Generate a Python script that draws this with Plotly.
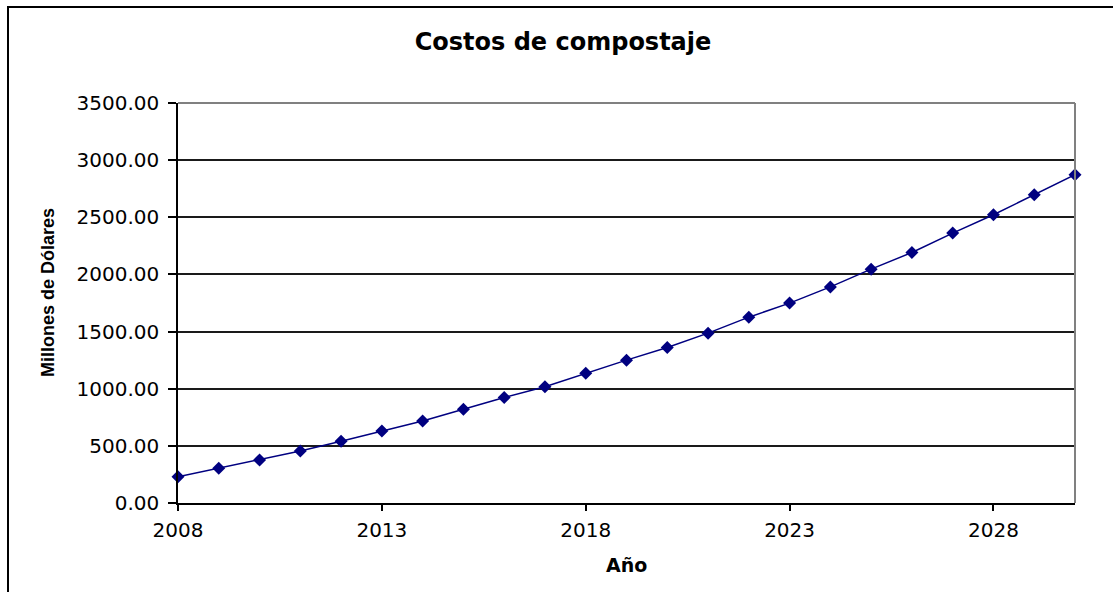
import plotly.graph_objects as go

years = list(range(2008, 2031))
costs = [230, 304, 376, 455, 540, 630, 718, 820, 923, 1018, 1135, 1250, 1360,
         1486, 1626, 1749, 1891, 2046, 2192, 2362, 2522, 2697, 2872]
x_ticks = [2008, 2013, 2018, 2023, 2028]
y_ticks = [0, 500, 1000, 1500, 2000, 2500, 3000, 3500]

title_text = "Costos de compostaje"
x_title = "Año"
y_title = "Millones de Dólares"

W, H = 1113, 592
L, R, T, B = 178, 1075, 103, 503
pw, ph = R - L, B - T

def px_x(p):
    return (p - L) / pw

def px_y(p):
    return (B - p) / ph

fig = go.Figure()
fig.add_trace(go.Scatter(
    x=years, y=costs, mode="lines+markers",
    line=dict(color="#000080", width=1.5),
    marker=dict(symbol="diamond", size=10, color="#000080"),
    cliponaxis=False, showlegend=False,
))

tick_font = dict(family="DejaVu Sans", size=20, color="black")

fig.update_layout(
    width=W, height=H,
    margin=dict(l=L, r=W - R, t=T, b=H - B, pad=0),
    paper_bgcolor="white", plot_bgcolor="white",
    xaxis=dict(
        range=[2008, 2030], tickvals=x_ticks, ticktext=[str(v) for v in x_ticks],
        showgrid=False, zeroline=False, showline=True, linecolor="black", linewidth=1.5,
        ticks="outside", ticklen=6, tickcolor="black", tickwidth=1.5,
        tickfont=tick_font, ticklabelstandoff=2,
    ),
    yaxis=dict(
        range=[0, 3500], tickvals=y_ticks, ticktext=[f"{v:.2f}" for v in y_ticks],
        showgrid=True, gridcolor="#1a1a1a", gridwidth=1.5, zeroline=False,
        showline=True, linecolor="black", linewidth=1.5,
        ticks="outside", ticklen=8, tickcolor="black", tickwidth=1.5,
        tickfont=tick_font, ticklabelstandoff=5,
    ),
    title=dict(
        text=title_text, x=563 / W, xref="container", xanchor="center",
        y=1 - 42 / H, yref="container", yanchor="middle",
        font=dict(family="DejaVu Sans", size=24, color="black", weight="bold"),
    ),
)

# axis titles
fig.add_annotation(
    text=f"<b>{y_title}</b>", xref="paper", yref="paper",
    x=px_x(48), y=px_y(293), xanchor="center", yanchor="middle", textangle=-90,
    showarrow=False, font=dict(family="Liberation Sans", size=18, color="black"),
)
fig.add_annotation(
    text=f"<b>{x_title}</b>", xref="paper", yref="paper",
    x=px_x(626), y=px_y(565), xanchor="center", yanchor="middle",
    showarrow=False, font=dict(family="DejaVu Sans", size=19, color="black"),
)

# plot area border (top and right in gray)
fig.add_shape(type="line", xref="paper", yref="paper", x0=0, x1=1, y0=1, y1=1,
              line=dict(color="#808080", width=2), layer="above")
fig.add_shape(type="line", xref="paper", yref="paper", x0=1, x1=1, y0=0, y1=1,
              line=dict(color="#808080", width=2), layer="above")

# outer chart border
fig.add_shape(type="rect", xref="paper", yref="paper",
              x0=px_x(8), x1=px_x(1125), y0=px_y(605), y1=px_y(7),
              line=dict(color="black", width=2), layer="below")

fig.write_html("out.html",
               config={"displayModeBar": False},
               post_script="document.body.style.margin='0px';document.body.style.overflow='hidden';")
